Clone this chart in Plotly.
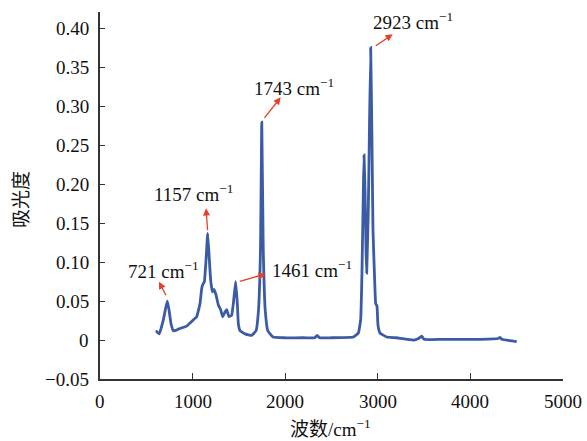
import plotly.graph_objects as go

# ---- data ----
wavenumber = [600, 612, 640, 684, 709, 727, 745, 767, 792, 830, 864, 936, 1008, 1044, 1080,
              1098, 1109, 1127, 1145, 1163, 1181, 1195, 1213, 1231, 1253, 1278, 1303, 1325,
              1350, 1368, 1393, 1422, 1440, 1465, 1483, 1494, 1512, 1566, 1638, 1685, 1712,
              1733, 1747, 1763, 1784, 1812, 1868, 2000, 2200, 2320, 2345, 2370, 2500, 2736,
              2790, 2815, 2829, 2844, 2851, 2862, 2873, 2880, 2898, 2908, 2923, 2937, 2948,
              2970, 2977, 2991, 3002, 3024, 3096, 3200, 3384, 3440, 3474, 3500, 3700, 4104,
              4300, 4320, 4340, 4500]
absorbance = [0.011, 0.011, 0.008, 0.026, 0.041, 0.050, 0.039, 0.021, 0.012, 0.013, 0.015,
              0.018, 0.026, 0.030, 0.047, 0.066, 0.071, 0.075, 0.103, 0.137, 0.103, 0.077,
              0.062, 0.065, 0.058, 0.045, 0.039, 0.030, 0.036, 0.039, 0.030, 0.032, 0.047,
              0.075, 0.047, 0.021, 0.012, 0.008, 0.006, 0.012, 0.039, 0.116, 0.280, 0.116,
              0.039, 0.012, 0.004, 0.003, 0.003, 0.003, 0.006, 0.003, 0.003, 0.004, 0.009,
              0.026, 0.086, 0.193, 0.238, 0.193, 0.116, 0.086, 0.171, 0.257, 0.376, 0.257,
              0.141, 0.064, 0.047, 0.044, 0.019, 0.009, 0.004, 0.003, 0.000, 0.002, 0.005,
              0.001, 0.001, 0.001, 0.002, 0.0035, 0.001, -0.002]

peak_labels = ["721", "1157", "1461", "1743", "2923"]

x_tickvals = [0, 1000, 2000, 3000, 4000, 5000]
x_ticktext = ["0", "1000", "2000", "3000", "4000", "5000"]
y_tickvals = [-0.05, 0, 0.05, 0.10, 0.15, 0.20, 0.25, 0.30, 0.35, 0.40]
y_ticktext = ["\u22120.05", "0", "0.05", "0.10", "0.15", "0.20", "0.25", "0.30", "0.35", "0.40"]

x_title = "波数/cm<sup>\u22121</sup>"
y_title = "吸光度"

# ---- layout geometry ----
W, H = 587, 441
L, R, T, B = 100, 24, 12, 62
XR = [0, 5000]
YR = [-0.05, 0.4216]


def px2x(px):
    return XR[0] + (px - L) / (W - L - R) * (XR[1] - XR[0])


def py2y(py):
    return YR[1] - (py - T) / (H - T - B) * (YR[1] - YR[0])


FONT = "Liberation Serif, Noto Sans CJK SC, serif"
RED = "#e5402a"
TXT = dict(family=FONT, size=19, color="#111")

fig = go.Figure()
fig.add_trace(go.Scatter(x=wavenumber, y=absorbance, mode="lines",
                         line=dict(color="#3b5ba5", width=2.8, shape="spline", smoothing=0.3),
                         showlegend=False))

# label text positions (pixel) and arrows (tail, head in pixels)
label_pos = [(163, 270), (193, 193), (312, 269), (294, 87), (413, 21)]
arrows = [((166.7, 296.7), (159, 281.7)),
          ((207.7, 231.7), (206, 208.3)),
          ((238.3, 281.7), (265.7, 274)),
          ((263.3, 119.3), (280.7, 97.3)),
          ((374.3, 46.7), (392.7, 34.3))]

annotations = []
for lab, (tx, ty), (tail, head) in zip(peak_labels, label_pos, arrows):
    annotations.append(dict(x=px2x(tx), y=py2y(ty), xref="x", yref="y",
                            text=f"{lab} cm<sup>\u22121</sup>", showarrow=False,
                            font=TXT, xanchor="center", yanchor="middle"))
    annotations.append(dict(x=px2x(head[0]), y=py2y(head[1]), xref="x", yref="y",
                            ax=px2x(tail[0]), ay=py2y(tail[1]), axref="x", ayref="y",
                            text="", showarrow=True, arrowhead=2, arrowsize=1.1,
                            arrowwidth=1.3, arrowcolor=RED))

# tick labels placed through the axes' own scales
for v, t in zip(x_tickvals, x_ticktext):
    annotations.append(dict(x=v, y=0, xref="x", yref="paper", text=t, showarrow=False,
                            font=TXT, xanchor="center", yanchor="top", yshift=-10))
for v, t in zip(y_tickvals, y_ticktext):
    annotations.append(dict(x=0, y=v, xref="paper", yref="y", text=t, showarrow=False,
                            font=TXT, xanchor="right", yanchor="middle", xshift=-9))

# axis titles
annotations.append(dict(x=0.497, y=0, xref="paper", yref="paper", text=x_title,
                        showarrow=False, font=TXT, xanchor="center", yanchor="middle",
                        yshift=-49))
annotations.append(dict(x=0, y=0.488, xref="paper", yref="paper", text=y_title,
                        showarrow=False, font=TXT, textangle=-90, xanchor="center",
                        yanchor="middle", xshift=-78))

fig.update_layout(
    template="none",
    width=W, height=H,
    margin=dict(l=L, r=R, t=T, b=B, pad=0),
    plot_bgcolor="white", paper_bgcolor="white",
    font=TXT,
    annotations=annotations,
    xaxis=dict(range=XR, tickvals=x_tickvals, showticklabels=False,
               showgrid=False, zeroline=False, showline=True, linecolor="#333",
               linewidth=1.5, ticks="inside", ticklen=6, tickwidth=1.2, tickcolor="#333"),
    yaxis=dict(range=YR, tickvals=y_tickvals, showticklabels=False,
               showgrid=False, zeroline=False, showline=True, linecolor="#333",
               linewidth=1.5, ticks="inside", ticklen=5, tickwidth=1.2, tickcolor="#333"),
)

fig.write_html("out.html")
